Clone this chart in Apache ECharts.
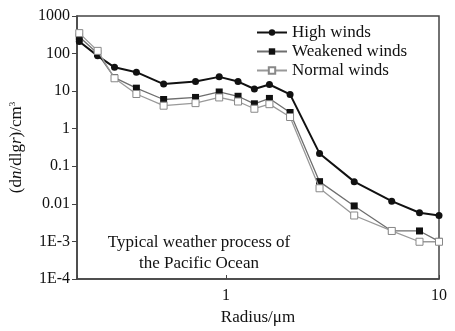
<!DOCTYPE html>
<html>
<head>
<meta charset="utf-8">
<script src="https://cdn.jsdelivr.net/npm/echarts@6/dist/echarts.min.js"></script>
<style>
  html, body { margin: 0; padding: 0; background: #fff; }
  #chart { width: 455px; height: 331px; }
</style>
</head>
<body>
<div id="chart"></div>
<script>
// Particle size distribution, radius in micrometres
const radius = [0.205, 0.25, 0.3, 0.38, 0.51, 0.72, 0.93, 1.14, 1.36, 1.6, 2.0, 2.75, 4.0, 6.0, 8.1, 10];
const highWinds = [210, 87, 43, 32, 15.4, 18, 24, 18, 11.4, 15, 8.2, 0.22, 0.039, 0.0118, 0.0058, 0.0049];
const weakenedWinds = [280, 100, 23, 12, 6.0, 6.8, 9.5, 7.3, 4.6, 6.4, 2.7, 0.039, 0.0088, 0.0019, 0.0019, 0.001];
const normalWinds = [350, 118, 22, 8.4, 4.1, 4.8, 6.8, 5.3, 3.4, 4.5, 2.05, 0.026, 0.0049, 0.0019, 0.00098, 0.00098];

const seriesNames = ['High winds', 'Weakened winds', 'Normal winds'];
const yTickLabels = { '-4': '1E-4', '-3': '1E-3', '-2': '0.01', '-1': '0.1', '0': '1', '1': '10', '2': '100', '3': '1000' };
const xTickLabels = { '0': '1', '1': '10' };
const noteLines = ['Typical weather process of', 'the Pacific Ocean'];

const FONT = '"Liberation Serif", "Times New Roman", serif';
const INK = '#111';

function pairs(ys) { return radius.map((r, i) => [r, ys[i]]); }
function decade(v) {
  const e = Math.log10(v);
  const k = Math.round(e);
  return Math.abs(e - k) < 1e-6 ? String(k) : null;
}

const chart = echarts.init(document.getElementById('chart'), null, { renderer: 'canvas' });

chart.setOption({
  animation: false,
  backgroundColor: '#fff',
  grid: {
    left: 73, right: 16, top: 16, bottom: 46,
    show: true, borderColor: '#444', borderWidth: 1.5, backgroundColor: 'transparent'
  },
  legend: {
    orient: 'vertical',
    left: 251, top: 19,
    itemGap: 2,
    itemWidth: 30, itemHeight: 8,
    data: seriesNames,
    textStyle: { fontFamily: FONT, fontSize: 17, color: INK, padding: [0, 0, 0, 0] }
  },
  xAxis: {
    type: 'log', logBase: 10, min: 0.2, max: 10,
    name: 'Radius/μm', nameLocation: 'middle', nameGap: 30,
    nameTextStyle: { fontFamily: FONT, fontSize: 17, color: INK },
    axisLine: { show: true, lineStyle: { color: '#444', width: 1.5 } },
    axisTick: { show: true, inside: true, length: 4, lineStyle: { color: '#444' } },
    minorTick: { show: false },
    splitLine: { show: false },
    axisLabel: {
      fontFamily: FONT, fontSize: 16, color: INK, margin: 9,
      formatter: v => { const d = decade(v); return d !== null && xTickLabels[d] ? xTickLabels[d] : ''; }
    }
  },
  yAxis: {
    type: 'log', logBase: 10, min: 1e-4, max: 1000,
    name: '(d{i|n}/dlg{i|r})/cm{s|3}', nameLocation: 'middle', nameGap: 52,
    nameTextStyle: {
      fontFamily: FONT, fontSize: 17, color: INK,
      rich: {
        i: { fontFamily: FONT, fontSize: 17, fontStyle: 'italic', color: INK },
        s: { fontFamily: FONT, fontSize: 9, color: INK, verticalAlign: 'top', padding: [0, 0, 8, 0] }
      }
    },
    axisLine: { show: true, lineStyle: { color: '#444', width: 1.5 } },
    axisTick: { show: true, inside: false, length: 5, lineStyle: { color: '#444' } },
    splitLine: { show: false },
    axisLabel: {
      fontFamily: FONT, fontSize: 16, color: INK, margin: 7,
      formatter: v => { const d = decade(v); return d !== null && yTickLabels[d] ? yTickLabels[d] : ''; }
    }
  },
  graphic: [{
    type: 'text',
    left: 199 - 100, top: 232,
    style: {
      text: noteLines.join('\n'),
      width: 200,
      align: 'center',
      x: 100,
      textAlign: 'center',
      fontFamily: FONT, fontSize: 17, lineHeight: 21, fill: INK
    }
  }],
  series: [
    {
      name: seriesNames[0], type: 'line', data: pairs(highWinds),
      symbol: 'circle', symbolSize: 7, z: 4,
      lineStyle: { color: '#111', width: 2 },
      itemStyle: { color: '#111', borderColor: '#111', borderWidth: 0 }
    },
    {
      name: seriesNames[1], type: 'line', data: pairs(weakenedWinds),
      symbol: 'rect', symbolSize: 7, z: 3,
      lineStyle: { color: '#6e6e6e', width: 1.3 },
      itemStyle: { color: '#111', borderColor: '#111', borderWidth: 0 }
    },
    {
      name: seriesNames[2], type: 'line', data: pairs(normalWinds),
      symbol: 'rect', symbolSize: 7, z: 5,
      lineStyle: { color: '#999', width: 1.3 },
      itemStyle: { color: '#fff', borderColor: '#888', borderWidth: 1 }
    }
  ]
});
</script>
</body>
</html>
